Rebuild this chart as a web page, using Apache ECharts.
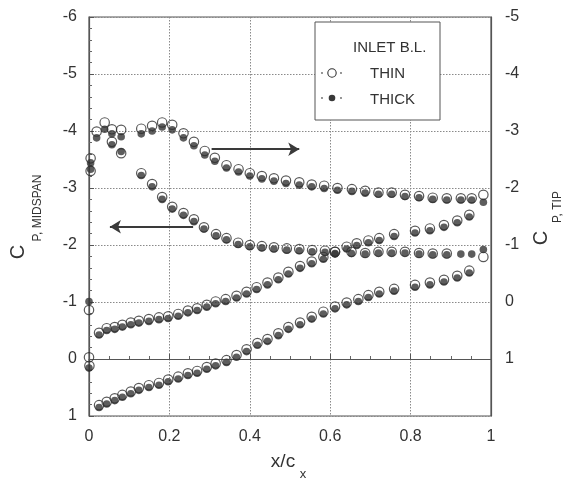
<!DOCTYPE html>
<html><head><meta charset="utf-8">
<script src="https://cdn.jsdelivr.net/npm/echarts/dist/echarts.min.js"></script>
<style>html,body{margin:0;padding:0;background:#fff}#c{width:566px;height:478px}</style>
</head><body><div id="c"></div>
<script>
// ---- Tip, suction side (right axis, C_P,TIP) ----
const xTipSuction = [0.004,0.019,0.039,0.057,0.080,0.130,0.157,0.182,0.207,0.235,0.261,0.288,0.313,0.342,0.372,0.400,0.430,0.460,0.490,0.523,0.554,0.585,0.618,0.654,0.687,0.720,0.753,0.786,0.821,0.855,0.890,0.925,0.952,0.981];
const tipSuctionThin  = [-2.30,-2.99,-3.15,-3.03,-3.02,-3.04,-3.09,-3.15,-3.11,-2.96,-2.81,-2.65,-2.53,-2.40,-2.33,-2.26,-2.21,-2.17,-2.13,-2.10,-2.06,-2.04,-2.00,-1.98,-1.95,-1.92,-1.92,-1.88,-1.86,-1.83,-1.82,-1.82,-1.82,-1.88];
const tipSuctionThick = [-2.33,-2.88,-3.03,-2.95,-2.90,-2.95,-3.00,-3.07,-3.02,-2.88,-2.74,-2.58,-2.47,-2.35,-2.28,-2.21,-2.16,-2.12,-2.08,-2.05,-2.02,-1.99,-1.96,-1.94,-1.91,-1.89,-1.89,-1.85,-1.83,-1.80,-1.79,-1.79,-1.79,-1.75];

// ---- Tip, pressure side (right axis) ----
const xTipPressure = [0.000,0.025,0.044,0.064,0.083,0.104,0.124,0.149,0.174,0.197,0.222,0.246,0.269,0.293,0.315,0.340,0.367,0.392,0.417,0.444,0.471,0.496,0.525,0.554,0.583,0.612,0.641,0.666,0.695,0.722,0.759,0.811,0.848,0.883,0.916,0.946];
const tipPressureThin  = [0.14,0.54,0.46,0.44,0.40,0.36,0.33,0.30,0.27,0.25,0.21,0.15,0.11,0.05,-0.01,-0.05,-0.11,-0.18,-0.26,-0.34,-0.43,-0.53,-0.63,-0.71,-0.79,-0.88,-0.97,-1.03,-1.08,-1.12,-1.19,-1.25,-1.29,-1.35,-1.43,-1.53];
const tipPressureThick = [-0.01,0.58,0.50,0.48,0.44,0.40,0.37,0.34,0.31,0.29,0.25,0.19,0.15,0.09,0.03,-0.01,-0.07,-0.14,-0.22,-0.30,-0.39,-0.49,-0.59,-0.67,-0.75,-0.84,-0.93,-0.99,-1.04,-1.08,-1.15,-1.21,-1.25,-1.31,-1.39,-1.49];

// ---- Midspan, suction side (left axis, C_P,MIDSPAN) ----
const xMidSuction = [0.004,0.057,0.080,0.130,0.157,0.182,0.207,0.235,0.261,0.286,0.316,0.342,0.371,0.400,0.430,0.460,0.492,0.523,0.555,0.587,0.612,0.653,0.687,0.720,0.753,0.786,0.821,0.855,0.890,0.925,0.952,0.981];
const midSuctionThin  = [-3.52,-3.81,-3.61,-3.26,-3.07,-2.84,-2.67,-2.56,-2.45,-2.31,-2.19,-2.12,-2.04,-2.00,-1.98,-1.96,-1.94,-1.93,-1.91,-1.90,-1.88,-1.88,-1.86,-1.88,-1.88,-1.88,-1.86,-1.85,-1.85,null,null,-1.79];
const midSuctionThick = [-3.44,-3.76,-3.64,-3.22,-3.02,-2.80,-2.63,-2.52,-2.41,-2.28,-2.16,-2.09,-2.01,-1.97,-1.95,-1.93,-1.91,-1.90,-1.88,-1.87,-1.85,-1.85,-1.84,-1.86,-1.86,-1.86,-1.84,-1.83,-1.83,-1.84,-1.84,-1.92];

// ---- Midspan, pressure side (left axis) ----
const xMidPressure = [0.000,0.001,0.025,0.044,0.064,0.083,0.104,0.124,0.149,0.174,0.197,0.222,0.246,0.269,0.293,0.315,0.342,0.367,0.392,0.419,0.444,0.471,0.496,0.525,0.554,0.583,0.612,0.641,0.670,0.695,0.722,0.759,0.811,0.848,0.883,0.916,0.946];
const midPressureThin  = [-0.03,0.12,0.81,0.75,0.69,0.63,0.57,0.51,0.46,0.42,0.36,0.31,0.25,0.21,0.14,0.08,0.02,-0.07,-0.17,-0.28,-0.35,-0.45,-0.56,-0.64,-0.74,-0.83,-0.92,-0.99,-1.05,-1.12,-1.18,-1.23,-1.30,-1.34,-1.39,-1.46,-1.55];
const midPressureThick = [0.16,null,0.85,0.79,0.73,0.67,0.61,0.55,0.50,0.46,0.40,0.35,0.29,0.25,0.18,0.12,0.06,-0.03,-0.13,-0.24,-0.31,-0.41,-0.52,-0.60,-0.70,-0.79,-0.88,-0.95,-1.01,-1.08,-1.14,-1.19,-1.26,-1.30,-1.35,-1.42,-1.51];

// ---- Axes / annotations ----
const xTicks = [0, 0.2, 0.4, 0.6, 0.8, 1];
const leftRange = [-6, 1];
const rightRange = [-5, 2];
const arrowMid = [[0.259, -2.32], [0.052, -2.32]];   // points to left axis
const arrowTip = [[0.305, -2.68], [0.523, -2.68]];   // points to right axis

const FONT = 'Liberation Sans, Arial, Helvetica, sans-serif';
const INK = '#333';

function pts(xs, ys) {
  const out = [];
  xs.forEach((x, i) => { if (ys[i] != null) out.push([x, ys[i]]); });
  return out;
}
const thinStyle = { color: 'rgba(255,255,255,0)', borderColor: '#2e2e2e', borderWidth: 1.2 };
const thickStyle = { color: '#353535' };
function thick(name, xs, ys, yi) {
  return { name, type: 'scatter', yAxisIndex: yi, data: pts(xs, ys), symbol: 'circle', symbolSize: 7.6, itemStyle: thickStyle, silent: true, z: 3 };
}
function thin(name, xs, ys, yi) {
  return { name, type: 'scatter', yAxisIndex: yi, data: pts(xs, ys), symbol: 'circle', symbolSize: 9.4, itemStyle: thinStyle, silent: true, z: 4 };
}
function arrowLine(coords, yi) {
  return { type: 'line', yAxisIndex: yi, data: [], silent: true,
    markLine: { silent: true, symbol: ['none', 'arrow'], symbolSize: [10, 11],
      label: { show: false }, animation: false,
      lineStyle: { color: '#3a3a3a', width: 2, type: 'solid' },
      data: [[{ coord: coords[0] }, { coord: coords[1] }]] } };
}

const chart = echarts.init(document.getElementById('c'), null, { renderer: 'canvas' });
chart.setOption({
  animation: false,
  backgroundColor: '#fff',
  grid: { left: 89, right: 75, top: 17, bottom: 62, show: true, borderColor: '#555', borderWidth: 1.2, backgroundColor: 'transparent' },
  xAxis: {
    type: 'value', min: xTicks[0], max: xTicks[xTicks.length - 1], interval: 0.2,
    axisLine: { show: true, lineStyle: { color: '#555', width: 1.2 } },
    axisTick: { show: true, inside: true, length: 5, lineStyle: { color: '#555' } },
    minorTick: { show: true, splitNumber: 4, length: 3, lineStyle: { color: '#666' } },
    splitLine: { show: true, lineStyle: { color: '#8a8a8a', type: [1.5, 1.5], width: 1 } },
    axisLabel: { color: INK, fontSize: 16, fontFamily: FONT, margin: 13,
      formatter: v => String(Math.round(v * 10) / 10) }
  },
  yAxis: [{
    type: 'value', min: leftRange[0], max: leftRange[1], interval: 1, inverse: true,
    axisLine: { show: true, lineStyle: { color: '#555', width: 1.2 } },
    axisTick: { show: true, inside: true, length: 5, lineStyle: { color: '#555' } },
    minorTick: { show: true, splitNumber: 5, length: 3, lineStyle: { color: '#666' } },
    splitLine: { show: true, lineStyle: { color: '#8a8a8a', type: [1.5, 1.5], width: 1 } },
    axisLabel: { color: INK, fontSize: 16, fontFamily: FONT, margin: 12 }
  }, {
    type: 'value', min: rightRange[0], max: rightRange[1], interval: 1, inverse: true, position: 'right',
    axisLine: { show: true, lineStyle: { color: '#555', width: 1.2 } },
    axisTick: { show: false },
    splitLine: { show: false },
    axisLabel: { color: INK, fontSize: 16, fontFamily: FONT, margin: 14,
      formatter: v => (v === rightRange[1] ? '' : String(v)) }
  }],
  series: [
    thick('THICK tip SS', xTipSuction, tipSuctionThick, 1),
    thin('THIN tip SS', xTipSuction, tipSuctionThin, 1),
    thick('THICK tip PS', xTipPressure, tipPressureThick, 1),
    thin('THIN tip PS', xTipPressure, tipPressureThin, 1),
    thick('THICK mid SS', xMidSuction, midSuctionThick, 0),
    thin('THIN mid SS', xMidSuction, midSuctionThin, 0),
    thick('THICK mid PS', xMidPressure, midPressureThick, 0),
    thin('THIN mid PS', xMidPressure, midPressureThin, 0),
    arrowLine(arrowMid, 0),
    arrowLine(arrowTip, 1)
  ],
  graphic: [
    // legend
    { type: 'rect', z: 100, shape: { x: 315, y: 22, width: 125, height: 98 }, style: { fill: '#fff', stroke: '#555', lineWidth: 1 } },
    { type: 'text', z: 101, x: 353, y: 48, style: { text: 'INLET B.L.', font: '15px ' + FONT, fill: INK, textVerticalAlign: 'middle', verticalAlign: 'middle' } },
    { type: 'text', z: 101, x: 370, y: 74, style: { text: 'THIN', font: '15px ' + FONT, fill: INK, textVerticalAlign: 'middle', verticalAlign: 'middle' } },
    { type: 'text', z: 101, x: 370, y: 100, style: { text: 'THICK', font: '15px ' + FONT, fill: INK, textVerticalAlign: 'middle', verticalAlign: 'middle' } },
    { type: 'circle', z: 101, shape: { cx: 332, cy: 73, r: 4.2 }, style: { fill: 'none', stroke: INK, lineWidth: 1.1 } },
    { type: 'circle', z: 101, shape: { cx: 332, cy: 98, r: 3.3 }, style: { fill: '#383838' } },
    { type: 'circle', z: 101, shape: { cx: 322, cy: 73, r: 0.9 }, style: { fill: '#666' } },
    { type: 'circle', z: 101, shape: { cx: 341, cy: 73, r: 0.9 }, style: { fill: '#666' } },
    { type: 'circle', z: 101, shape: { cx: 322, cy: 98, r: 0.9 }, style: { fill: '#666' } },
    { type: 'circle', z: 101, shape: { cx: 341, cy: 98, r: 0.9 }, style: { fill: '#666' } },
    // left axis name
    { type: 'text', z: 101, x: 18, y: 252, rotation: Math.PI / 2, style: { text: 'C', font: '20px ' + FONT, fill: INK, textAlign: 'center', align: 'center', textVerticalAlign: 'middle', verticalAlign: 'middle' } },
    { type: 'text', z: 101, x: 37.5, y: 208, rotation: Math.PI / 2, style: { text: 'P, MIDSPAN', font: '12px ' + FONT, fill: INK, textAlign: 'center', align: 'center', textVerticalAlign: 'middle', verticalAlign: 'middle' } },
    // right axis name
    { type: 'text', z: 101, x: 541, y: 238, rotation: Math.PI / 2, style: { text: 'C', font: '20px ' + FONT, fill: INK, textAlign: 'center', align: 'center', textVerticalAlign: 'middle', verticalAlign: 'middle' } },
    { type: 'text', z: 101, x: 557.5, y: 207, rotation: Math.PI / 2, style: { text: 'P, TIP', font: '12px ' + FONT, fill: INK, textAlign: 'center', align: 'center', textVerticalAlign: 'middle', verticalAlign: 'middle' } },
    // x axis name
    { type: 'text', z: 101, x: 283, y: 462, style: { text: 'x/c', font: '19px ' + FONT, fill: INK, textAlign: 'center', align: 'center', textVerticalAlign: 'middle', verticalAlign: 'middle' } },
    { type: 'text', z: 101, x: 303, y: 474, style: { text: 'x', font: '13px ' + FONT, fill: INK, textAlign: 'center', align: 'center', textVerticalAlign: 'middle', verticalAlign: 'middle' } }
  ]
});
</script>
</body></html>
